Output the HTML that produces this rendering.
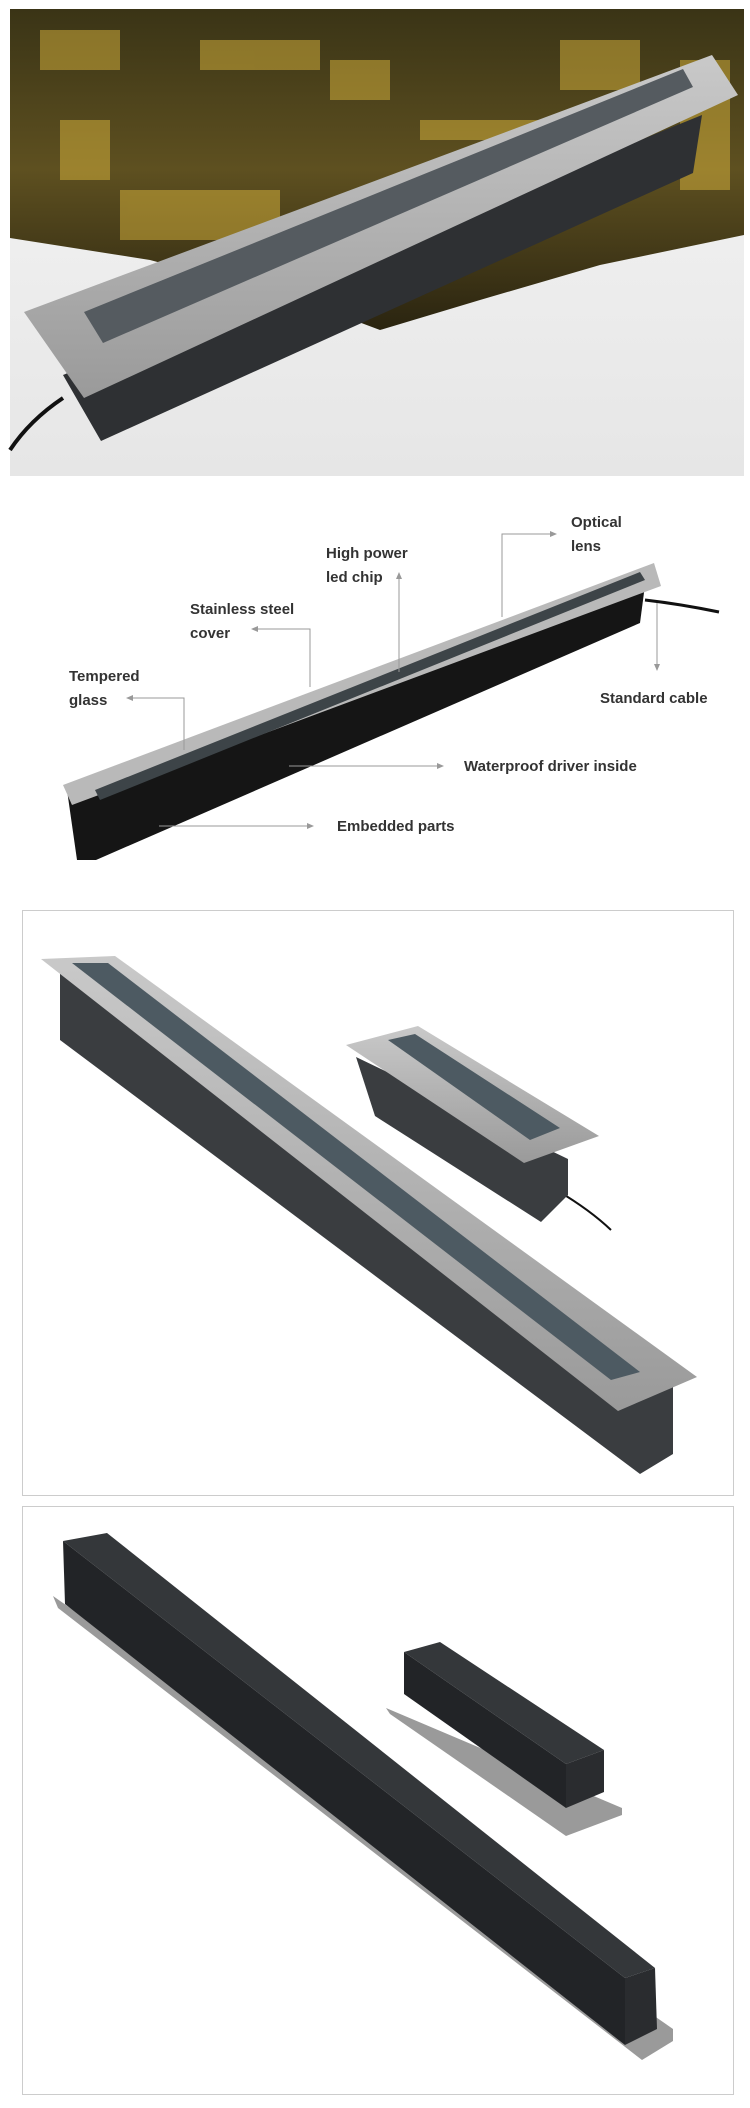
<!DOCTYPE html>
<html><head><meta charset="utf-8"><style>
html,body{margin:0;padding:0;background:#fff;width:750px;height:2108px;overflow:hidden}
svg{display:block}
text{font-family:"Liberation Sans",sans-serif;font-weight:bold;font-size:15px;fill:#333}
</style></head><body>
<svg width="750" height="2108" viewBox="0 0 750 2108">
<defs>
<linearGradient id="city" x1="0" y1="0" x2="0" y2="1">
<stop offset="0" stop-color="#3a3416"/><stop offset="0.5" stop-color="#5e5020"/><stop offset="1" stop-color="#2a2410"/></linearGradient>
<linearGradient id="bg1" x1="0" y1="0" x2="0" y2="1"><stop offset="0" stop-color="#f6f6f6"/><stop offset="1" stop-color="#e6e6e6"/></linearGradient>
<linearGradient id="steel" x1="0" y1="0" x2="0" y2="1"><stop offset="0" stop-color="#c9c9c9"/><stop offset="1" stop-color="#9a9a9a"/></linearGradient>
<marker id="ar" markerWidth="8" markerHeight="8" refX="6" refY="3" orient="auto"><path d="M0,0 L7,3 L0,6 Z" fill="#999"/></marker>
</defs>
<rect x="10" y="9" width="734" height="467" fill="url(#bg1)"/>
<polygon points="10,9 744,9 744,235 600,265 480,300 380,330 300,300 150,260 10,238" fill="url(#city)"/>
<g fill="#e8c040" opacity="0.45">
<rect x="40" y="30" width="80" height="40"/><rect x="200" y="40" width="120" height="30"/><rect x="330" y="60" width="60" height="40"/><rect x="560" y="40" width="80" height="50"/><rect x="120" y="190" width="160" height="50"/><rect x="680" y="60" width="50" height="130"/>
<rect x="420" y="120" width="140" height="20"/><rect x="60" y="120" width="50" height="60"/>
</g>
<polygon points="101,441 693,173 702,115 63,375" fill="#2e3033"/>
<polygon points="24,312 712,55 738,95 84,398" fill="url(#steel)"/>
<polygon points="84,312 683,69 693,87 103,343" fill="#555b60"/>
<path d="M63,398 Q30,420 10,450" stroke="#111" stroke-width="4" fill="none"/>
<polygon points="67,790 645,585 640,623 96,860 77,860" fill="#151515"/>
<polygon points="63,785 654,563 661,586 72,805" fill="#b9b9b9"/>
<polygon points="95,790 640,572 645,580 100,800" fill="#3d4448"/>
<path d="M645,600 Q680,604 719,612" stroke="#111" stroke-width="3" fill="none"/>
<g stroke="#999" stroke-width="1" fill="none">
<path d="M502,617 V534 H556" marker-end="url(#ar)"/>
<path d="M399,672 V573" marker-end="url(#ar)"/>
<path d="M310,687 V629 H252" marker-end="url(#ar)"/>
<path d="M184,750 V698 H127" marker-end="url(#ar)"/>
<path d="M657,603 V670" marker-end="url(#ar)"/>
<path d="M289,766 H443" marker-end="url(#ar)"/>
<path d="M159,826 H313" marker-end="url(#ar)"/>
</g>
<text x="571" y="527">Optical</text><text x="571" y="551">lens</text>
<text x="326" y="558">High power</text><text x="326" y="582">led chip</text>
<text x="190" y="614">Stainless steel</text><text x="190" y="638">cover</text>
<text x="69" y="681">Tempered</text><text x="69" y="705">glass</text>
<text x="600" y="703">Standard cable</text>
<text x="464" y="771">Waterproof driver inside</text>
<text x="337" y="831">Embedded parts</text>
<rect x="22.5" y="910.5" width="711" height="585" fill="#fff" stroke="#ccc"/>
<polygon points="60,967 673,1384 673,1454 640,1474 60,1040" fill="#3a3d40"/>
<polygon points="41,959 115,956 697,1377 618,1411" fill="url(#steel)"/>
<polygon points="72,963 108,963 640,1372 611,1380" fill="#4d5a62"/>
<path d="M558,1191 Q590,1210 611,1230" stroke="#111" stroke-width="2" fill="none"/>
<polygon points="356,1057 568,1159 568,1195 541,1222 375,1116" fill="#3a3d40"/>
<polygon points="346,1045 418,1026 599,1136 524,1163" fill="url(#steel)"/>
<polygon points="388,1040 415,1034 560,1128 530,1140" fill="#4d5a62"/>
<rect x="22.5" y="1506.5" width="711" height="588" fill="#fff" stroke="#ccc"/>
<polygon points="53,1596 673,2029 673,2041 642,2060 58,1608" fill="#9a9a9a"/>
<polygon points="63,1541 625,1978 625,2045 65,1604" fill="#222427"/>
<polygon points="63,1541 107,1533 655,1968 625,1978" fill="#34373a"/>
<polygon points="625,1978 655,1968 657,2029 625,2045" fill="#2a2c2f"/>
<polygon points="386,1708 622,1808 622,1815 566,1836 390,1714" fill="#9a9a9a"/>
<polygon points="404,1652 566,1764 566,1808 404,1694" fill="#222427"/>
<polygon points="404,1652 440,1642 604,1750 566,1764" fill="#34373a"/>
<polygon points="566,1764 604,1750 604,1792 566,1808" fill="#2a2c2f"/>
</svg>
</body></html>
